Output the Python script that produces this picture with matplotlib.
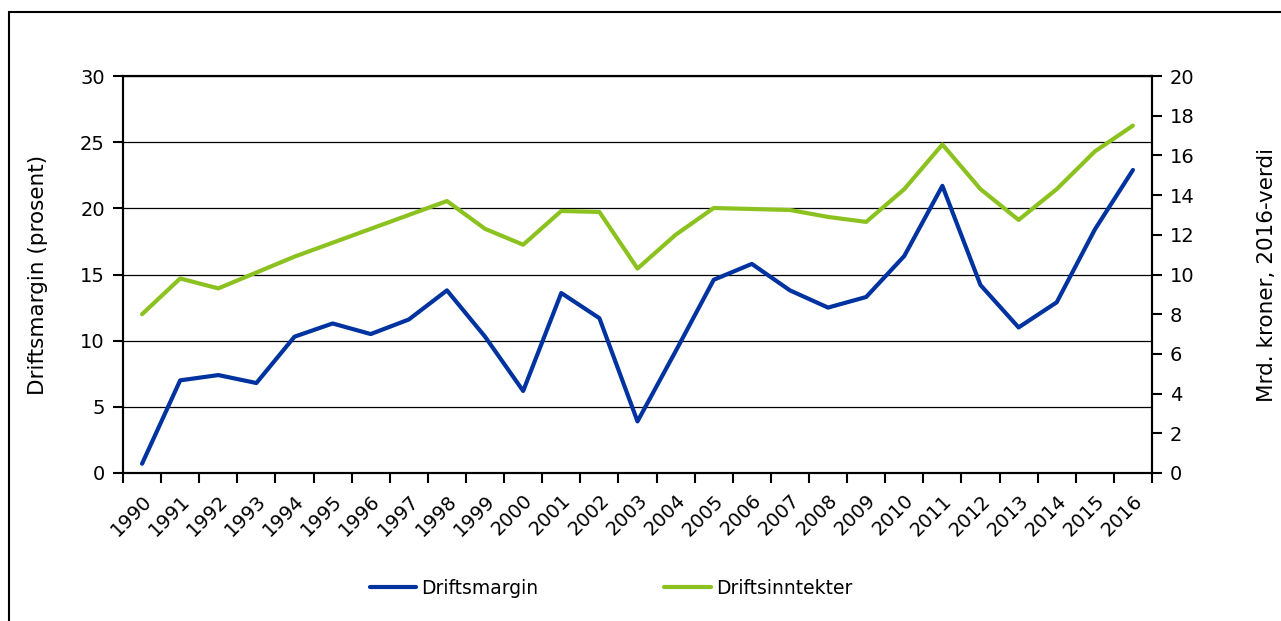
import matplotlib.pyplot as plt
from matplotlib.patches import Rectangle

# år og verdier lest av figuren
years = [str(y) for y in range(1990, 2017)]
driftsmargin = [0.7, 7.0, 7.4, 6.8, 10.3, 11.3, 10.5, 11.6, 13.8, 10.3, 6.2, 13.6, 11.7, 3.9,
                9.2, 14.6, 15.8, 13.8, 12.5, 13.3, 16.4, 21.7, 14.2, 11.0, 12.9, 18.4, 22.9]
driftsinntekter = [8.0, 9.8, 9.3, 10.1, 10.9, 11.6, 12.3, 13.0, 13.7, 12.3, 11.5, 13.2, 13.15, 10.3,
                   12.0, 13.35, 13.3, 13.25, 12.9, 12.65, 14.3, 16.55, 14.3, 12.75, 14.3, 16.2, 17.5]

plt.rcParams['font.family'] = ['DejaVu Sans']
plt.rcParams['font.size'] = 14

blue = '#0033a0'
green = '#8cc21f'

fig = plt.figure(figsize=(12.81, 6.21), dpi=100)
# ramme rundt figuren (går ut over høyre og nedre kant)
fig.patches.append(Rectangle((9 / 1281, -0.1), 1.2, 1.1 - 12 / 621, transform=fig.transFigure,
                             fill=False, edgecolor='black', linewidth=1.5))

ax = fig.add_axes([123 / 1281, 1 - 473 / 621, (1152 - 123) / 1281, (473 - 76) / 621])
ax2 = ax.twinx()

x = [i + 0.5 for i in range(len(years))]
l1, = ax2.plot(x, [v * 20 / 30 for v in driftsmargin], color=blue, lw=3, solid_capstyle='round',
               label='Driftsmargin')
l2, = ax2.plot(x, driftsinntekter, color=green, lw=3, solid_capstyle='round', label='Driftsinntekter')

ax.set_xlim(0, len(years))
ax.set_ylim(0, 30)
ax.set_yticks(range(0, 31, 5))
ax.grid(True, axis='y', color='black', lw=0.9)
ax.set_axisbelow(True)
ax.set_xticks(range(0, len(years) + 1))
ax.set_xticklabels([])
ax.set_xticks(x, minor=True)
ax.set_xticklabels(years, minor=True, rotation=45, ha='right', va='top', rotation_mode='anchor')
ax.tick_params(axis='x', which='minor', length=0, pad=13)
ax.tick_params(axis='x', which='major', length=7, width=1.5, direction='out')
ax.tick_params(axis='y', length=7, width=1.5, direction='out', pad=6)
ax.set_ylabel('Driftsmargin (prosent)', labelpad=23, fontsize=15.5)

ax2.set_ylim(0, 20)
ax2.set_yticks(range(0, 21, 2))
ax2.tick_params(axis='y', length=7, width=1.5, direction='out', pad=6)
ax2.set_ylabel('Mrd. kroner, 2016-verdi', labelpad=45, fontsize=15.5)

for a in (ax, ax2):
    for s in a.spines.values():
        s.set_linewidth(1.5)

fig.legend(handles=[l1, l2], loc='center', bbox_to_anchor=(611 / 1281, 1 - 588 / 621), ncol=2,
           frameon=False, handlelength=2.5, handletextpad=0.27, columnspacing=6.7, fontsize=13.5)

fig.savefig('out.png', dpi=100)
